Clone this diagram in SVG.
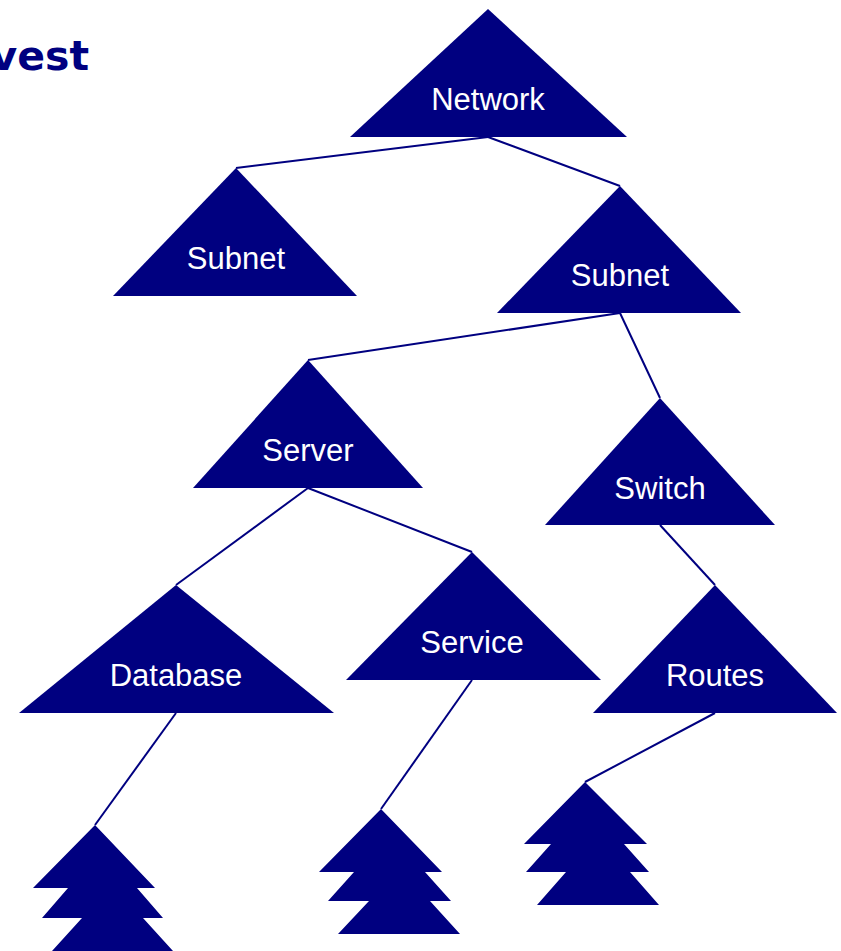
<svg xmlns="http://www.w3.org/2000/svg" width="841" height="951" viewBox="0 0 841 951">
<style>
.tri{fill:#000080}
.lbl{fill:#fff;font-family:"Liberation Sans",Arial,sans-serif;font-size:31px;text-anchor:middle}
.con line{stroke:#000080;stroke-width:2}
</style>
<rect width="841" height="951" fill="#fff"/>
<text x="89" y="70" font-family="DejaVu Sans,Verdana,sans-serif" font-weight="bold" font-size="41" fill="#000080" text-anchor="end">vest</text>
<g class="con">
<line x1="488" y1="137" x2="236" y2="168"/>
<line x1="488" y1="137" x2="620" y2="186"/>
<line x1="620" y1="313" x2="308" y2="360"/>
<line x1="620" y1="313" x2="660" y2="398"/>
<line x1="308" y1="488" x2="176" y2="585"/>
<line x1="308" y1="488" x2="472" y2="552"/>
<line x1="660" y1="525" x2="715" y2="585"/>
<line x1="176" y1="713" x2="95" y2="825"/>
<line x1="472" y1="680" x2="381" y2="809"/>
<line x1="715" y1="713" x2="585" y2="782"/>
</g>
<g id="network"><polygon class="tri" points="488,9 627,137 350,137"/><text class="lbl" x="488" y="110">Network</text></g>
<g id="subnet1"><polygon class="tri" points="236,168 357,296 113,296"/><text class="lbl" x="236" y="269">Subnet</text></g>
<g id="subnet2"><polygon class="tri" points="620,186 741,313 497,313"/><text class="lbl" x="620" y="286">Subnet</text></g>
<g id="server"><polygon class="tri" points="308,360 423,488 193,488"/><text class="lbl" x="308" y="461">Server</text></g>
<g id="switch"><polygon class="tri" points="660,398 775,525 545,525"/><text class="lbl" x="660" y="499">Switch</text></g>
<g id="database"><polygon class="tri" points="176,585 334,713 19,713"/><text class="lbl" x="176" y="686">Database</text></g>
<g id="service"><polygon class="tri" points="472,552 601,680 346,680"/><text class="lbl" x="472" y="653">Service</text></g>
<g id="routes"><polygon class="tri" points="715,585 837,713 593,713"/><text class="lbl" x="715" y="686">Routes</text></g>
<g id="tree1"><polygon class="tri" points="95,825 155,888 137,888 163,918 143,918 173,951 52,951 82,918 42,918 68,888 33,888"/></g>
<g id="tree2"><polygon class="tri" points="381,809 442,872 425,872 451,901 430,901 460,934 338,934 369,901 328,901 354,872 319,872"/></g>
<g id="tree3"><polygon class="tri" points="585,782 647,844 624,844 649,872 630,872 659,905 537,905 566,872 526,872 551,844 524,844"/></g>
</svg>
